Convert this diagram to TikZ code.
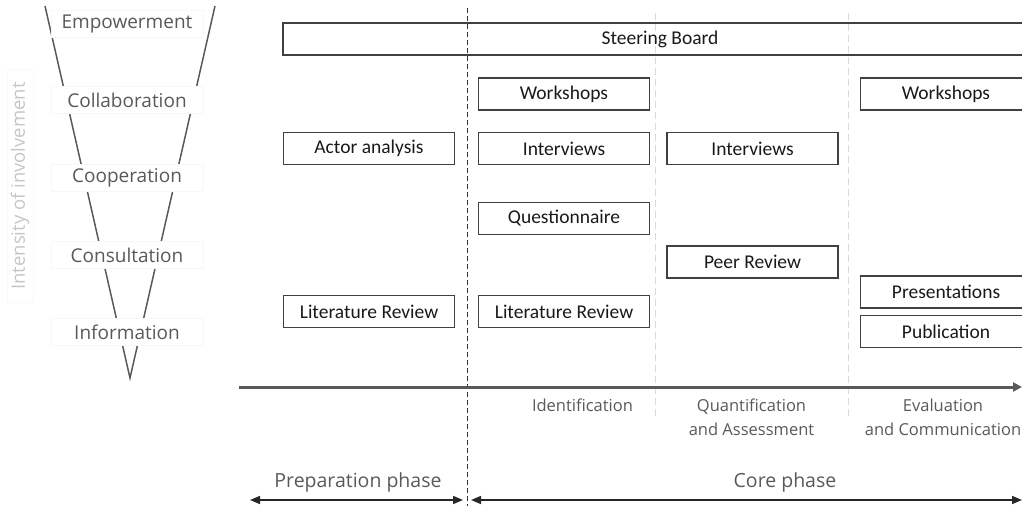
\documentclass[tikz,border=0pt]{standalone}
\usepackage{fontspec}
\setmainfont{Carlito}
\newfontfamily\labelfont{Open Sans}
\usetikzlibrary{arrows.meta}

\begin{document}
\begin{tikzpicture}[
    x=1pt, y=-1pt,
    act/.style={draw=black!75, line width=1.5pt, minimum width=171pt, minimum height=32pt, inner sep=0pt, text=black!90, font=\fontsize{19.5}{21}\selectfont},
    level/.style={draw=gray!6, fill=white, minimum width=152pt, minimum height=27pt, inner sep=0pt, text=black!65, font=\labelfont\fontsize{19}{21}\selectfont},
    stage/.style={align=center, text=black!65, font=\labelfont\fontsize{16.5}{24}\selectfont},
    phase/.style={text=black!65, font=\labelfont\fontsize{19.5}{21}\selectfont},
    funnel/.style={draw=black!65, line width=1.5pt},
    bigsep/.style={draw=black!80, line width=0.8pt, dash pattern=on 5pt off 3pt},
    smallsep/.style={draw=gray!30, line width=1pt, dash pattern=on 7pt off 4pt},
    timeline/.style={draw=black!65, line width=3pt, -{Triangle[length=9pt, width=9pt]}},
    span/.style={draw=black!85, line width=1.5pt, {Triangle[length=10pt, width=8pt]}-{Triangle[length=10pt, width=8pt]}}
  ]
  \useasboundingbox (0,0) rectangle (1022,506);
  \clip (0,0) rectangle (1022,506);

  % involvement funnel
  \coordinate (ftl) at (45,6);
  \coordinate (ftr) at (215,6);
  \coordinate (ftip) at (130,378);
  \draw[funnel] (ftl) -- (ftip) -- (ftr);
  \foreach \name/\lbl/\y in {emp/Empowerment/24, col/Collaboration/100, coop/Cooperation/178, cons/Consultation/255, info/Information/332} {
    \node[level] (\name) at (127,\y) {\lbl};
  }
  \node[draw=gray!5, rotate=90, minimum width=233pt, minimum height=26pt, inner sep=0pt, text=gray!45, font=\labelfont\fontsize{18.5}{20}\selectfont] (axisname) at (20,186) {Intensity of involvement};

  % phase separators
  \coordinate (sep1t) at (467,8);
  \coordinate (sep1b) at (467,506);
  \coordinate (sep2t) at (655,13);
  \coordinate (sep2b) at (655,418);
  \coordinate (sep3t) at (848,13);
  \coordinate (sep3b) at (848,418);
  \draw[bigsep] (sep1t) -- (sep1b);
  \draw[smallsep] (sep2t) -- (sep2b);
  \draw[smallsep] (sep3t) -- (sep3b);

  % activities
  \node[act, minimum width=754pt] (steer) at (660,39) {Steering Board};
  \node[act] (ws1) at (564,94) {Workshops};
  \node[act] (ws2) at (946,94) {Workshops};
  \node[act] (actor) at (369,148.5) {Actor analysis};
  \node[act] (int1) at (564,148.5) {Interviews};
  \node[act] (int2) at (752.5,148.5) {Interviews};
  \node[act] (quest) at (564,218.5) {Questionnaire};
  \node[act] (peer) at (752.5,262) {Peer Review};
  \node[act] (lit1) at (369,311.5) {Literature Review};
  \node[act] (lit2) at (564,311.5) {Literature Review};
  \node[act] (pres) at (946,292) {Presentations};
  \node[act] (publ) at (946,331.5) {Publication};

  % time axis
  \coordinate (tstart) at (239,387);
  \coordinate (tend) at (1022,387);
  \draw[timeline] (tstart) -- (tend);
  \node[stage] (ident) at (582.5,405) {Identification};
  \node[stage] (quant) at (751.5,417) {Quantification\\and Assessment};
  \node[stage] (eval) at (943,417) {Evaluation\\and Communication};

  % phases
  \coordinate (prepl) at (250,500);
  \coordinate (prepr) at (463,500);
  \coordinate (corel) at (471,500);
  \coordinate (corer) at (1022,500);
  \draw[span] (prepl) -- (prepr);
  \draw[span] (corel) -- (corer);
  \node[phase] (prep) at (358,482) {Preparation phase};
  \node[phase] (core) at (785,482) {Core phase};
\end{tikzpicture}
\end{document}
